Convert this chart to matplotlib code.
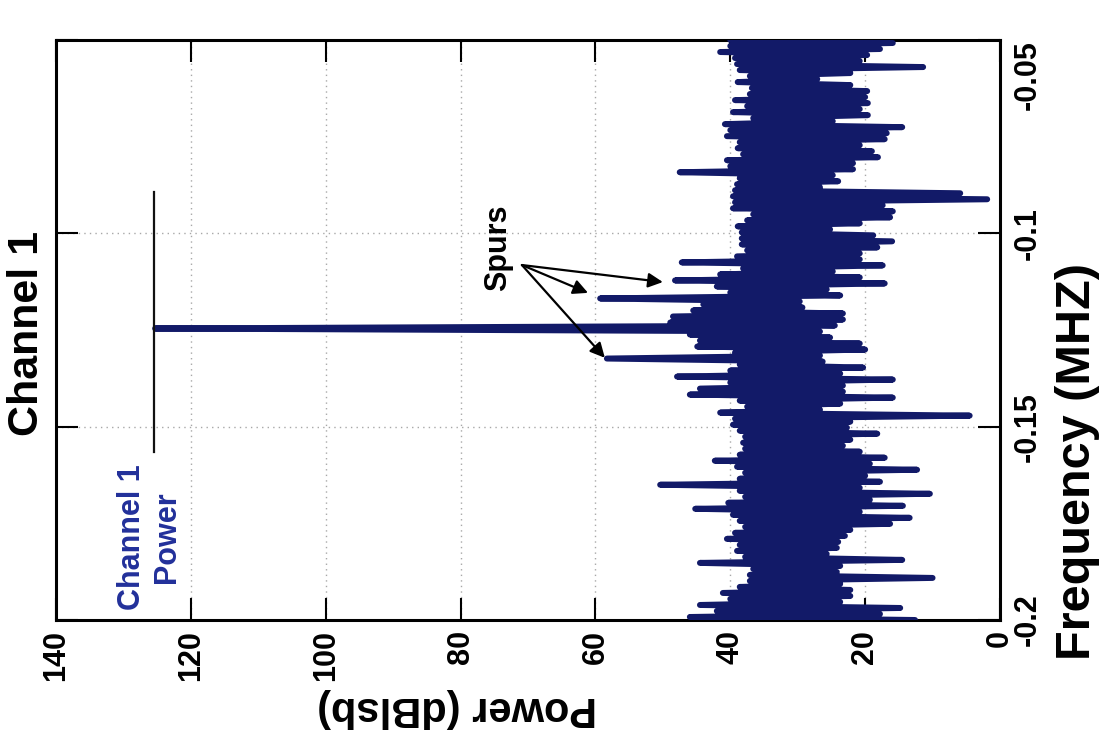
import numpy as np
import matplotlib
matplotlib.use("Agg")
import matplotlib.pyplot as plt

plt.rcParams['font.family'] = ['Liberation Sans', 'DejaVu Sans']
plt.rcParams['font.weight'] = 'bold'

# ---- data ----
# upper / lower envelope of the spectrum per frequency row (dBlsb), top (-0.05) to bottom (-0.2)
power_hi = [40.0, 40.0, 41.5, 39.3, 39.0, 38.6, 37.1, 38.9, 36.8, 37.1,
            39.3, 37.5, 39.6, 36.6, 40.8, 40.0, 40.5, 38.6, 38.9, 38.1,
            40.5, 40.0, 47.5, 38.6, 39.0, 39.3, 39.6, 39.3, 39.6, 36.6,
            37.5, 38.9, 38.3, 38.3, 38.3, 37.5, 39.0, 47.2, 38.1, 41.5,
            48.2, 42.0, 40.0, 59.3, 44.0, 45.5, 48.5, 48.9, 125.3, 46.0,
            44.5, 44.9, 39.3, 58.3, 38.6, 40.0, 47.9, 40.0, 44.5, 46.0,
            38.6, 37.5, 41.5, 39.3, 39.6, 38.6, 37.8, 38.1, 37.8, 38.6,
            42.3, 39.0, 37.8, 38.6, 50.4, 38.6, 37.8, 40.3, 45.2, 39.6,
            38.6, 37.8, 39.3, 40.5, 38.6, 39.0, 37.8, 44.5, 36.6, 37.1,
            37.1, 38.6, 41.1, 40.0, 44.5, 42.0, 46.0]
power_lo = [15.9, 17.8, 19.7, 20.8, 11.4, 22.2, 27.1, 22.2, 19.7, 20.0,
            19.6, 20.8, 19.6, 24.8, 14.5, 16.8, 17.1, 20.8, 19.0, 18.1,
            21.8, 21.8, 24.8, 24.0, 26.7, 5.9, 1.9, 17.4, 15.9, 16.3,
            20.8, 25.2, 18.8, 16.0, 18.2, 20.8, 20.8, 17.4, 24.8, 20.8,
            17.1, 25.7, 23.7, 29.7, 29.3, 23.3, 23.3, 24.5, 26.7, 25.2,
            20.8, 20.0, 26.7, 26.3, 20.3, 23.7, 15.9, 23.3, 23.3, 15.9,
            23.7, 26.7, 4.5, 22.2, 22.7, 18.2, 22.2, 23.3, 20.8, 17.1,
            19.3, 12.3, 20.0, 17.8, 20.8, 10.4, 19.3, 14.4, 20.8, 13.4,
            16.3, 22.2, 23.0, 24.0, 24.2, 25.7, 14.5, 23.7, 24.2, 10.0,
            23.7, 22.2, 22.2, 23.7, 14.8, 17.8, 12.6]
freq_start, freq_stop = -0.05, -0.2

power_ticks = [0, 20, 40, 60, 80, 100, 120, 140]
freq_ticks = [-0.2, -0.15, -0.1, -0.05]
freq_tick_labels = ['-0.2', '-0.15', '-0.1', '-0.05']

channel_power = 125.5
channel_power_span = (-0.0893, -0.1566)
spur_text_pos = (74.4, -0.1038)
spur_arrow_start = (70.9, -0.1082)
spur_arrow_heads = [(50.0, -0.1126), (61.1, -0.1154), (58.6, -0.1322)]
chan_label_pos = (126.1, -0.1785)

# ---- build series ----
power = np.empty(2 * len(power_hi))
power[0::2] = power_hi
power[1::2] = power_lo
freq = np.linspace(freq_start, freq_stop, len(power))

W, H = 1102, 737
fig = plt.figure(figsize=(W / 100, H / 100), dpi=100)
ax = fig.add_axes([56 / W, 1 - 620 / H, (1000 - 56) / W, (620 - 40) / H])

line_color = '#121a68'
ax.plot(power, freq, color=line_color, lw=4.3,
        solid_capstyle='round', solid_joinstyle='round', zorder=3)

ax.set_xlim(140, 0)
ax.set_ylim(-0.2, -0.05)
ax.set_xticks(power_ticks)
ax.set_xticklabels([str(v) for v in power_ticks], rotation=90)
ax.set_yticks(freq_ticks)
ax.set_yticklabels(freq_tick_labels, rotation=90, va='center')
ax.yaxis.tick_right()
ax.tick_params(axis='both', direction='in', length=16, width=1.5,
               top=True, bottom=True, left=True, right=True,
               labelleft=False, labelright=True, labelbottom=True,
               labelsize=22, colors='black')
ax.tick_params(axis='x', pad=7)
ax.tick_params(axis='y', pad=9)
for lab in ax.get_xticklabels() + ax.get_yticklabels():
    lab.set_fontweight('bold')
# top label sits inside the figure just below the top spine, as in the reference
ax.get_yticklabels()[-1].set_va('top')

ax.grid(True, color='#a8a8a8', linestyle=(0, (1, 3)), linewidth=1.0, zorder=0)
for sp in ax.spines.values():
    sp.set_linewidth(2.2)
    sp.set_color('black')

# channel power marker
ax.plot([channel_power, channel_power], channel_power_span, color='#111111', lw=1.6, zorder=4)
ax.text(chan_label_pos[0], chan_label_pos[1], 'Channel 1\nPower', rotation=90,
        ha='center', va='center', multialignment='center',
        fontsize=22, fontweight='bold', color='#22309a', zorder=5)

# spurs annotation
ax.text(spur_text_pos[0], spur_text_pos[1], 'Spurs', rotation=90, ha='center', va='center',
        fontsize=22, fontweight='bold', color='black', zorder=5)
for head in spur_arrow_heads:
    ax.annotate('', xy=head, xytext=spur_arrow_start,
                arrowprops=dict(arrowstyle='-|>', color='black', lw=1.6,
                                mutation_scale=22, shrinkA=0, shrinkB=0), zorder=6)

# titles / axis labels (figure rotated layout)
fig.text(27 / W, 1 - 333 / H, 'Channel 1', rotation=90, ha='center', va='center',
         fontsize=31, fontweight='bold')
fig.text(457 / W, 1 - 708 / H, 'Power (dBlsb)', rotation=180, ha='center', va='center',
         fontsize=30, fontweight='bold')
fig.text(1077 / W, 1 - 462 / H, 'Frequency (MHZ)', rotation=90, ha='center', va='center',
         fontsize=35, fontweight='bold')

fig.savefig('out.png', dpi=100, facecolor='white')
